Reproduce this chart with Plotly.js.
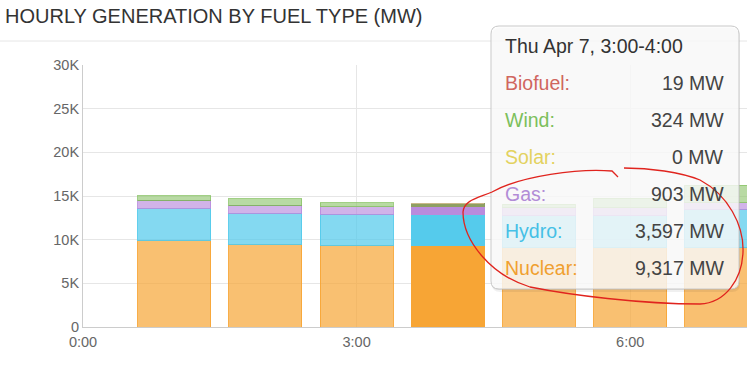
<!DOCTYPE html>
<html>
<head>
<meta charset="utf-8">
<script src="https://cdn.plot.ly/plotly-3.0.1.min.js"></script>
<style>
  html, body { margin: 0; padding: 0; background: #fff; }
  #chart { width: 747px; height: 367px; }
</style>
</head>
<body>
<div id="chart"></div>
<script>
// ---- data (MW), each bar = hour ending at hourEnd ----
const hourEnd  = [1, 2, 3, 4, 5, 6, 7];
const nuclear  = [9960, 9470, 9350, 9317, 9050, 9050, 9050];
const hydro    = [3620, 3530, 3550, 3597, 3700, 3700, 4450];
const gas      = [880, 900, 880, 903, 880, 880, 700];
const other    = [70, 70, 0, 0, 0, 0, 0];
const solar    = [0, 0, 0, 0, 0, 0, 0];
const wind     = [500, 700, 450, 324, 400, 1100, 2060];
const biofuel  = [20, 20, 20, 19, 20, 20, 20];
const xTickVals = [0, 3, 6];
const xTickText = ['0:00', '3:00', '6:00'];
const yTickVals = [0, 5000, 10000, 15000, 20000, 25000, 30000];
const yTickText = ['0', '5K', '10K', '15K', '20K', '25K', '30K'];
const tooltipDate = 'Thu Apr 7';
const hoverIdx = 3;

// ---- styles ----
const FONT = 'Liberation Sans, Arial, sans-serif';
const series = [
  {name: 'Nuclear', y: nuclear, base: '#F7A535', hov: '#F7A535', a: 0.70, lw: 1, label: '#F0A030'},
  {name: 'Hydro',   y: hydro,   base: '#55CBEC', hov: '#55CBEC', a: 0.72, lw: 1, label: '#45C0E6'},
  {name: 'Gas',     y: gas,     base: '#B98BDD', hov: '#B98BDD', a: 0.65, lw: 1, label: '#B28CD6'},
  {name: 'Other',   y: other,   base: '#505050', hov: '#505050', a: 0.85, lw: 0, label: null},
  {name: 'Solar',   y: solar,   base: '#E8D44D', hov: '#E8D44D', a: 0.70, lw: 0, label: '#E3D25F'},
  {name: 'Wind',    y: wind,    base: '#8CC46A', hov: '#8E9F63', a: 0.62, lw: 1, label: '#7CBF5C'},
  {name: 'Biofuel', y: biofuel, base: '#D9C9A0', hov: '#C9B98A', a: 0.70, lw: 0, label: '#D0665F'}
];
function rgba(hex, a) {
  const n = parseInt(hex.slice(1), 16);
  return `rgba(${(n >> 16) & 255},${(n >> 8) & 255},${n & 255},${a})`;
}

const traces = series.map(s => ({
  type: 'bar',
  name: s.name,
  x: hourEnd,
  y: s.y,
  width: 0.8,
  marker: {
    color: hourEnd.map((h, i) => i === hoverIdx ? s.hov : rgba(s.base, s.a)),
    line: {color: hourEnd.map((h, i) => i === hoverIdx ? s.hov : rgba(s.base, Math.min(1, s.a + 0.2))), width: s.lw}
  },
  hoverinfo: 'skip'
}));

// ---- geometry helpers (pixel -> paper) ----
const W = 747, H = 367, L = 83, R = 0, T = 65, B = 40;
const PW = W - L - R, PH = H - T - B;
const px = x => (x - L) / PW;
const py = y => (H - B - y) / PH;

function roundRect(x0, y0, x1, y1, r) {
  const P = (x, y) => `${px(x)},${py(y)}`;
  return `M ${P(x0 + r, y0)} L ${P(x1 - r, y0)} Q ${P(x1, y0)} ${P(x1, y0 + r)} ` +
         `L ${P(x1, y1 - r)} Q ${P(x1, y1)} ${P(x1 - r, y1)} L ${P(x0 + r, y1)} ` +
         `Q ${P(x0, y1)} ${P(x0, y1 - r)} L ${P(x0, y0 + r)} Q ${P(x0, y0)} ${P(x0 + r, y0)} Z`;
}
function pathPx(cmds) {
  return cmds.map(c => c[0] + ' ' + c.slice(1).map(p => `${px(p[0])},${py(p[1])}`).join(' ')).join(' ');
}

const tipX0 = 491, tipX1 = 739, tipY0 = 26, tipY1 = 289;
const shapes = [
  {type: 'line', xref: 'paper', yref: 'paper', x0: px(0), x1: px(747), y0: py(41), y1: py(41),
   line: {color: '#e6e6e6', width: 1}, layer: 'above'},
  {type: 'path', xref: 'paper', yref: 'paper', path: roundRect(tipX0 + 1, tipY0 + 2, tipX1 + 1, tipY1 + 3, 8),
   fillcolor: 'rgba(0,0,0,0.06)', line: {width: 0}, layer: 'above'},
  {type: 'path', xref: 'paper', yref: 'paper', path: roundRect(tipX0, tipY0 + 1, tipX1, tipY1 + 1, 8),
   fillcolor: 'rgba(0,0,0,0.06)', line: {width: 0}, layer: 'above'},
  {type: 'path', xref: 'paper', yref: 'paper', path: roundRect(tipX0, tipY0, tipX1, tipY1, 8),
   fillcolor: 'rgba(255,255,255,0.80)', line: {color: '#c8c8c8', width: 1}, layer: 'above'},
  {type: 'path', xref: 'paper', yref: 'paper', layer: 'above',
   path: pathPx([
     ['M', [618, 177]], ['L', [612, 171]],
     ['C', [580, 168], [520, 176], [492, 192]],
     ['C', [478, 198], [464, 200], [463, 212]],
     ['C', [463, 240], [490, 275], [530, 287]],
     ['C', [570, 295], [640, 304], [700, 304]],
     ['C', [725, 303], [742, 280], [743, 252]],
     ['C', [744, 225], [728, 195], [700, 180]],
     ['C', [680, 172], [650, 168], [624, 168]]
   ]),
   line: {color: '#E0241E', width: 1.3}}
];

// ---- tooltip texts from the data ----
const h = hourEnd[hoverIdx];
const annotations = [{
  xref: 'paper', yref: 'paper', x: px(503), y: py(46), xanchor: 'left', yanchor: 'middle',
  text: `${tooltipDate}, ${h - 1}:00-${h}:00`, showarrow: false,
  font: {family: FONT, size: 19.5, color: '#333'}
}];
const tipRows = ['Biofuel', 'Wind', 'Solar', 'Gas', 'Hydro', 'Nuclear'];
const rowY = [83, 120, 157, 194, 231, 268];
tipRows.forEach((nm, k) => {
  const s = series.find(t => t.name === nm);
  annotations.push({
    xref: 'paper', yref: 'paper', x: px(503), y: py(rowY[k]), xanchor: 'left', yanchor: 'middle',
    text: nm + ':', showarrow: false, font: {family: FONT, size: 19.5, color: s.label}
  });
  annotations.push({
    xref: 'paper', yref: 'paper', x: px(726), y: py(rowY[k]), xanchor: 'right', yanchor: 'middle',
    text: s.y[hoverIdx].toLocaleString('en-US') + ' MW', showarrow: false,
    font: {family: FONT, size: 19.5, color: '#444'}
  });
});

const layout = {
  width: W, height: H,
  margin: {l: L, r: R, t: T, b: B, pad: 0},
  paper_bgcolor: '#fff', plot_bgcolor: '#fff',
  barmode: 'stack',
  showlegend: false,
  hovermode: false,
  title: {text: 'HOURLY GENERATION BY FUEL TYPE (MW)', xref: 'container', yref: 'container',
          x: 5 / W, xanchor: 'left', y: 1 - 16 / H, yanchor: 'middle',
          font: {family: FONT, size: 20, color: '#333'}},
  xaxis: {
    range: [0, PW / 91.2], tickvals: xTickVals, ticktext: xTickText,
    showgrid: true, gridcolor: '#e6e6e6', zeroline: false,
    showline: true, linecolor: '#cccccc', ticks: 'outside', ticklen: 2, tickcolor: 'rgba(0,0,0,0)',
    tickfont: {family: FONT, size: 14.5, color: '#666'}
  },
  yaxis: {
    range: [0, 30000], tickvals: yTickVals, ticktext: yTickText,
    showgrid: true, gridcolor: '#e6e6e6', zeroline: false,
    showline: true, linecolor: '#cccccc', ticks: '',
    tickfont: {family: FONT, size: 14.5, color: '#666'}
  },
  shapes: shapes,
  annotations: annotations
};

Plotly.newPlot('chart', traces, layout, {displayModeBar: false, staticPlot: true});
</script>
</body>
</html>
